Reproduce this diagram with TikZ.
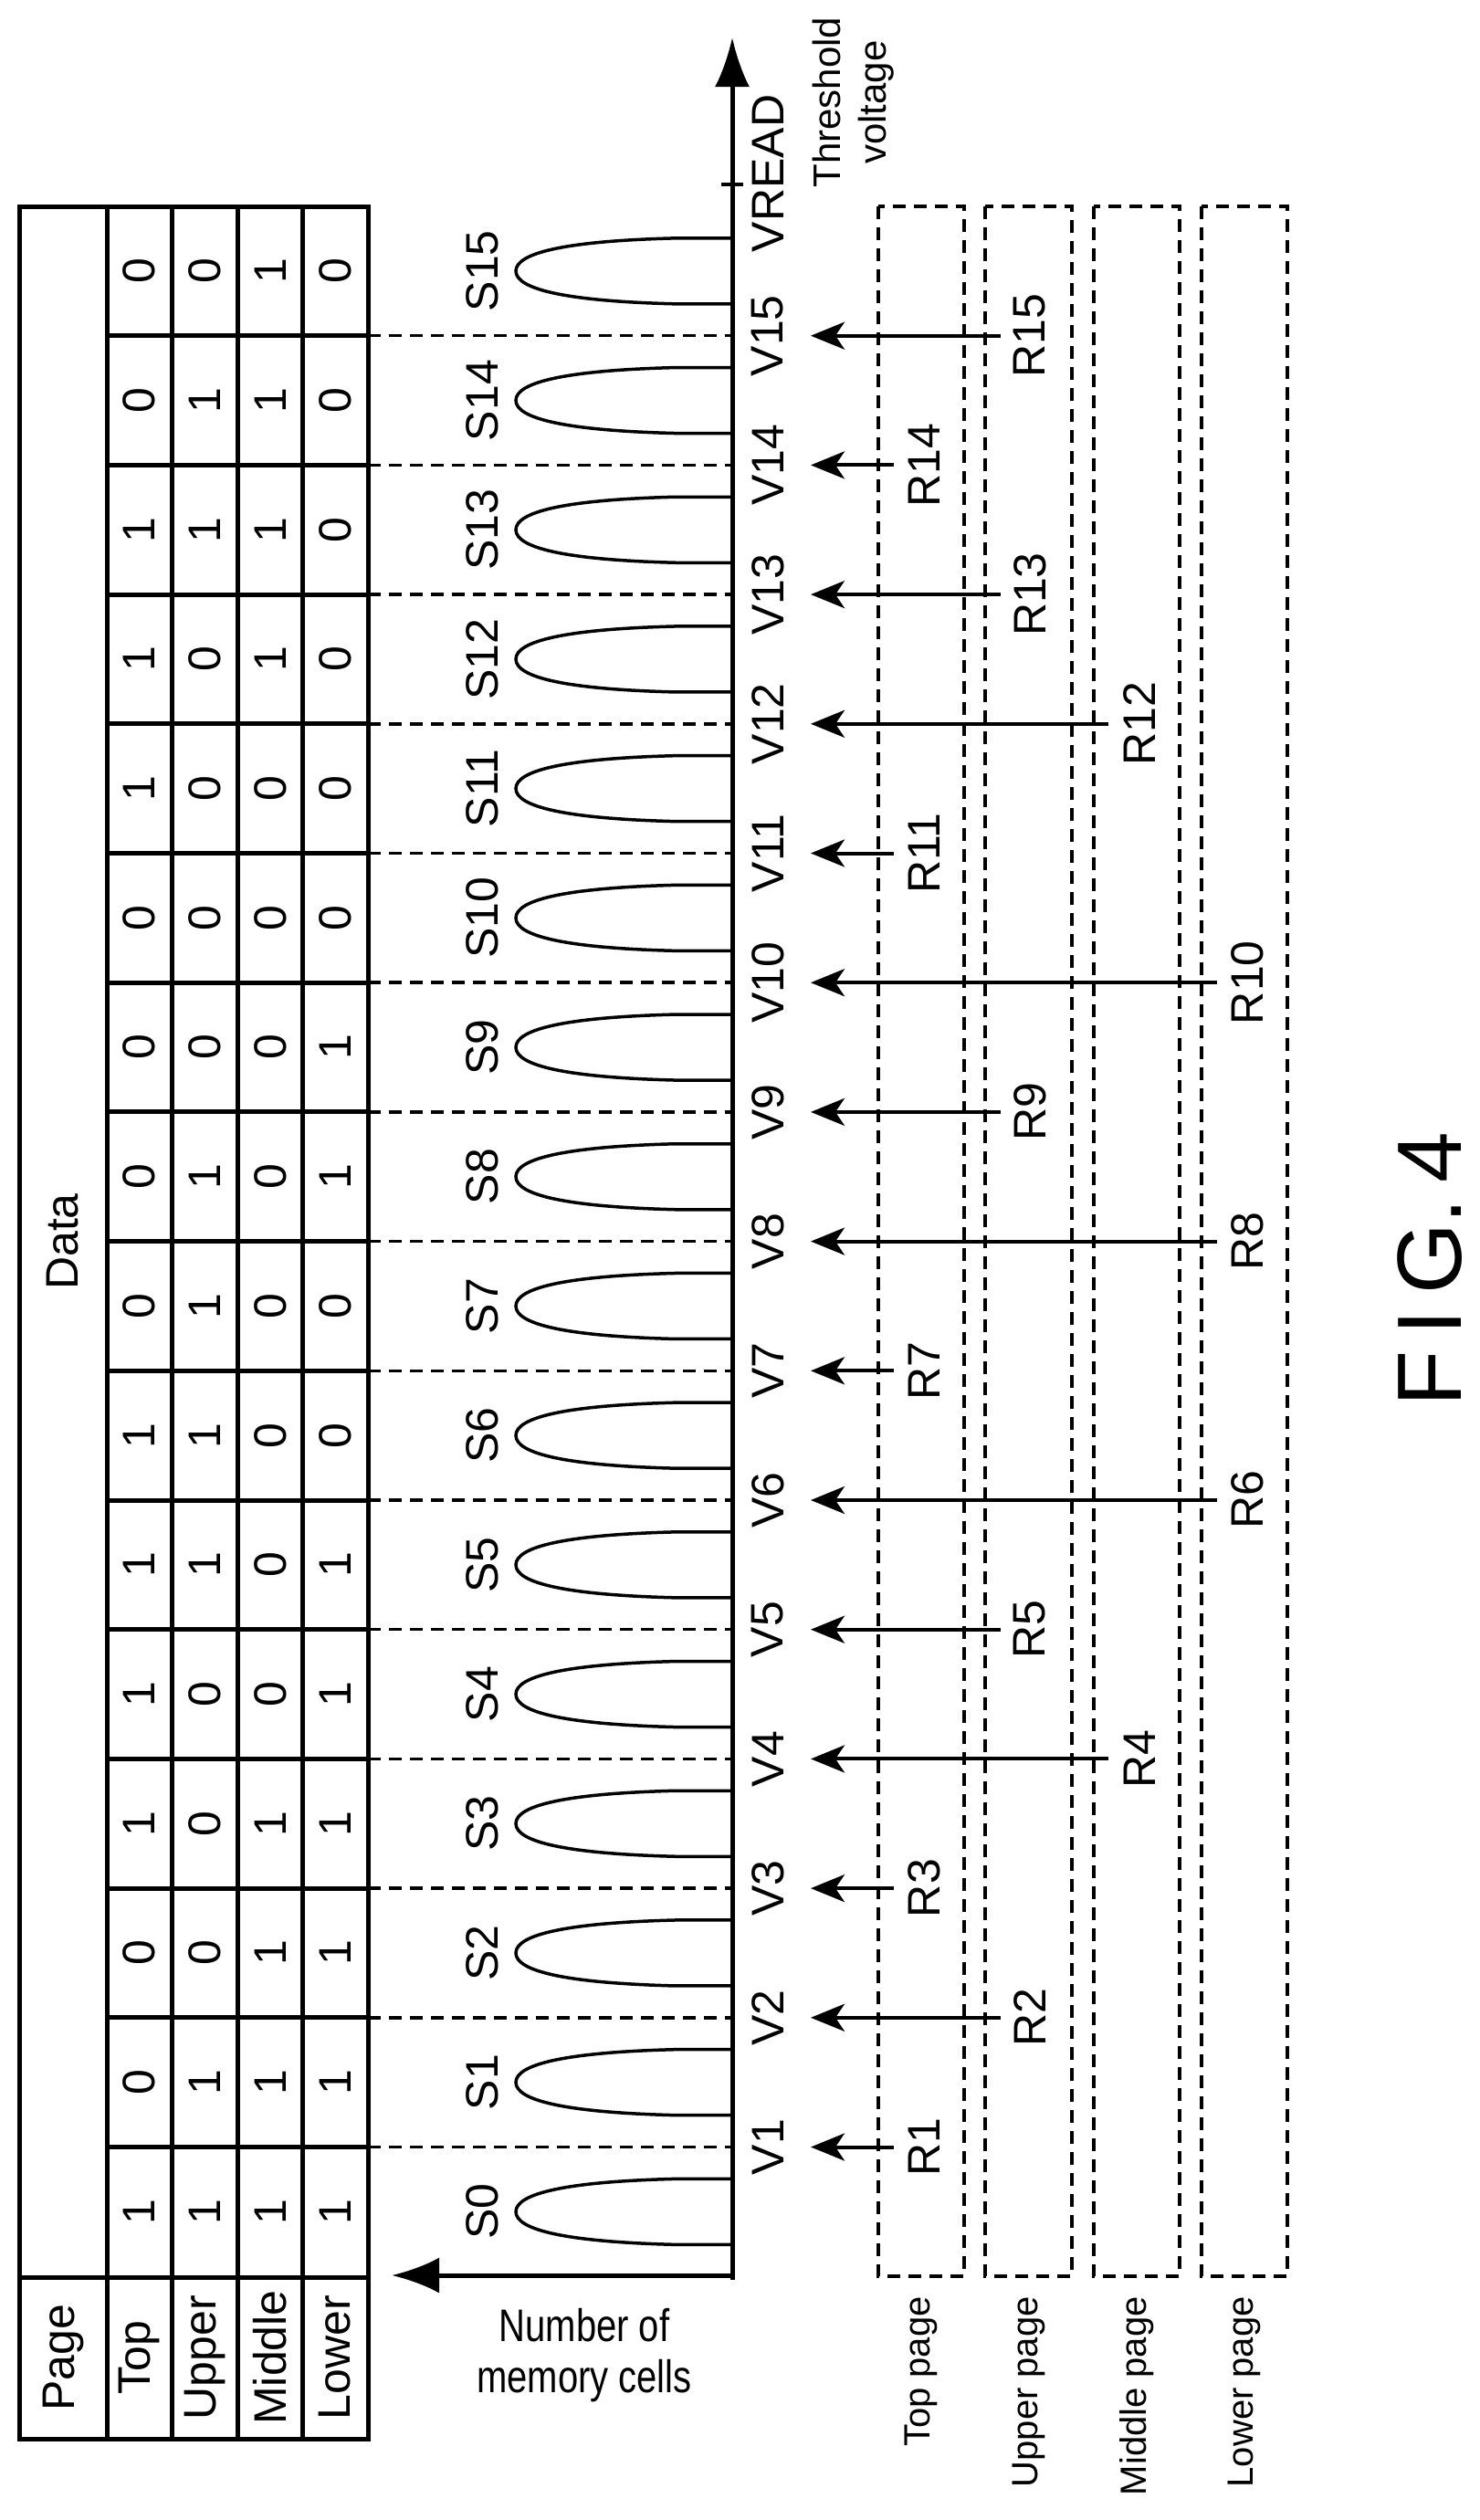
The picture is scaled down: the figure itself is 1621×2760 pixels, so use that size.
\documentclass[tikz,border=0pt]{standalone}
\usepackage{fontspec}
\setmainfont{Liberation Sans}
\usetikzlibrary{arrows.meta}
\begin{document}
\begin{tikzpicture}[x=1pt,y=-1pt,
  thk/.style={line width=5pt},
  thn/.style={line width=3.5pt},
  dsh/.style={line width=3.5pt,dash pattern=on 14pt off 9pt},
  txt/.style={font=\fontsize{50}{56}\selectfont,inner sep=0pt},
  rtxt/.style={txt,rotate=90},
  rd/.style={line width=4pt,-{Stealth[length=37pt,width=30pt,inset=10pt]}}]
\useasboundingbox (0,0) rectangle (1621,2760);
\def\yb#1{226+#1*141.7}
% table
\draw[thk] (21,226) rectangle (403,2671);
\foreach \xx in {117,188,260,331} \draw[thk] (\xx,226) -- (\xx,2671);
\draw[thk] (21,2494) -- (403,2494);
\foreach \k in {1,...,15} \draw[thk] (117,{\yb{\k}}) -- (403,{\yb{\k}});
\node[rtxt] (data) at (69,1360) {Data};
\node[rtxt] (page) at (69,2582) {Page};
\node[rtxt] (hTop) at (152,2582) {Top};
\node[rtxt] (hUp) at (224,2582) {Upper};
\node[rtxt] (hMid) at (296,2582) {Middle};
\node[rtxt] (hLow) at (367,2582) {Lower};
\foreach \n/\a/\b/\c/\d in {0/1/1/1/1,1/0/1/1/1,2/0/0/1/1,3/1/0/1/1,4/1/0/0/1,5/1/1/0/1,6/1/1/0/0,7/0/1/0/0,8/0/1/0/1,9/0/0/0/1,10/0/0/0/0,11/1/0/0/0,12/1/0/1/0,13/1/1/1/0,14/0/1/1/0,15/0/0/1/0}{
  \pgfmathsetmacro\yc{226+(15.5-\n)*141.7}
  \node[rtxt] (t\n) at (152,\yc) {\a};
  \node[rtxt] (u\n) at (224,\yc) {\b};
  \node[rtxt] (m\n) at (296,\yc) {\c};
  \node[rtxt] (l\n) at (367,\yc) {\d};
  \draw[thn] (802,\yc-36) -- (740,\yc-36) .. controls (620,\yc-33) and (565,\yc-20) .. (565,\yc) .. controls (565,\yc+20) and (620,\yc+33) .. (740,\yc+36) -- (802,\yc+36);
  \node[rtxt] (S\n) at (528,\yc) {S\n};
}
% dashed separators and V labels
\foreach \v in {1,...,15}{
  \pgfmathsetmacro\yy{226+(16-\v)*141.7}
  \draw[dsh] (403,\yy) -- (802,\yy);
  \node[rtxt] (V\v) at (841,\yy) {V\v};
}
% axes
\coordinate (O) at (802,2492);
\coordinate (ytip) at (802,41);
\coordinate (xtip) at (429,2492);
\draw[thk,-{Latex[length=54pt,width=38pt]}] (802,2497) -- (ytip);
\draw[thk,-{Latex[length=52pt,width=39pt]}] (O) -- (xtip);
\draw[thn] (790,202) -- (814,202);
\node[rtxt] (vread) at (841,190) {VREAD};
\node[rtxt,align=center,font=\fontsize{42}{72}\selectfont] (tv) at (935,112) {Threshold\\[-22pt]voltage};
\node[txt,align=center,xscale=0.8] (nmc) at (640,2580) {Number of\\memory cells};
% page boxes
\foreach \xl/\xr/\nm/\lab in {962/1056/tp/Top page,1079/1174/up/Upper page,1198/1292/mp/Middle page,1316/1410/lp/Lower page}{
  \draw[dsh] (\xl,226) rectangle (\xr,2493);
  \node[rtxt,anchor=east,font=\fontsize{40}{46}\selectfont] (\nm) at ({(\xl+\xr)/2},2515) {\lab};
}
% read arrows
\foreach \r/\xe/\xl in {1/979/1012,3/979/1012,7/979/1012,11/979/1012,14/979/1012,2/1096/1128,5/1096/1128,9/1096/1128,13/1096/1128,15/1096/1128,4/1214/1248,12/1214/1248,6/1333/1366,8/1333/1366,10/1333/1366}{
  \pgfmathsetmacro\yy{226+(16-\r)*141.7}
  \coordinate (Rs\r) at (\xe,\yy);
  \coordinate (Re\r) at (888,\yy);
  \draw[rd] (Rs\r) -- (Re\r);
  \node[rtxt] (R\r) at (\xl,\yy) {R\r};
}
\node[rotate=90,inner sep=0pt,font=\fontsize{100}{110}\selectfont] (fig) at (1566,1390) {F\,I\,G.\,4};
\end{tikzpicture}
\end{document}
